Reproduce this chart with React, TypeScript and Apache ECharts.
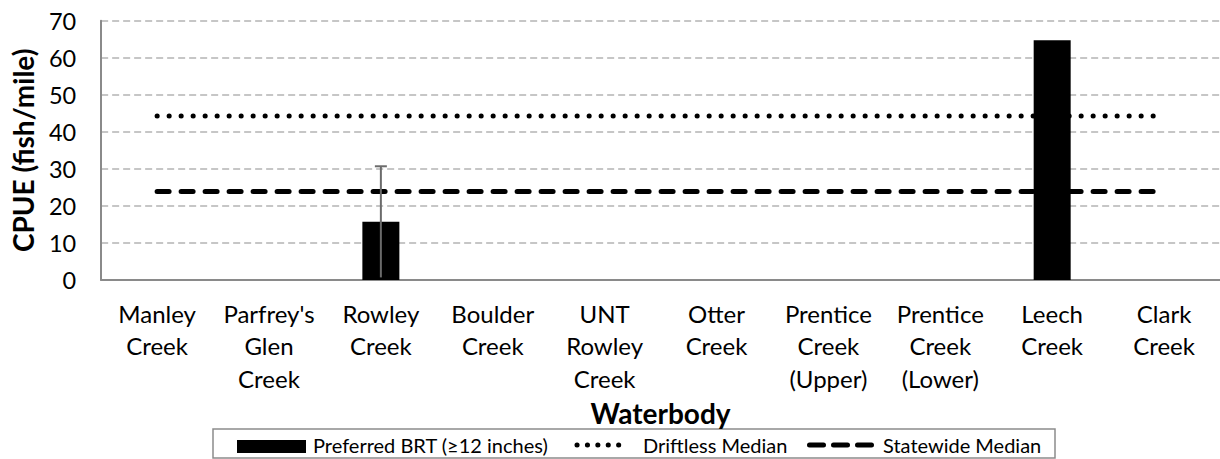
import React, { useEffect, useRef } from 'react';
import * as echarts from 'echarts';

const categories = [
  'Manley\nCreek',
  "Parfrey's\nGlen\nCreek",
  'Rowley\nCreek',
  'Boulder\nCreek',
  'UNT\nRowley\nCreek',
  'Otter\nCreek',
  'Prentice\nCreek\n(Upper)',
  'Prentice\nCreek\n(Lower)',
  'Leech\nCreek',
  'Clark\nCreek',
];
const preferredBRT = [0, 0, 15.7, 0, 0, 0, 0, 0, 64.7, 0];
const errorLow = [null, null, 0.7, null, null, null, null, null, null, null];
const errorHigh = [null, null, 30.7, null, null, null, null, null, null, null];
const driftlessMedian = [44.3, 44.3, 44.3, 44.3, 44.3, 44.3, 44.3, 44.3, 44.3, 44.3];
const statewideMedian = [23.9, 23.9, 23.9, 23.9, 23.9, 23.9, 23.9, 23.9, 23.9, 23.9];
const yMin = 0;
const yMax = 70;
const yInterval = 10;
const seriesNames = ['Preferred BRT (≥12 inches)', 'Driftless Median', 'Statewide Median'];
const yTitle = 'CPUE (fish/mile)';
const xTitle = 'Waterbody';

const FONT = 'Lato, "Noto Sans", sans-serif';

export default function App() {
  const ref = useRef<HTMLDivElement>(null);
  useEffect(() => {
    if (!ref.current) return;
    const chart = echarts.init(ref.current, undefined, { renderer: 'svg' });
    const errData = categories
      .map((_, i) => [i, errorLow[i], errorHigh[i]])
      .filter((d) => d[1] != null && d[2] != null);
    const legendY = 445;
    chart.setOption({
      animation: false,
      textStyle: { fontFamily: FONT },
      grid: { left: 100, right: 0, top: 20.7, bottom: 179 },
      xAxis: {
        type: 'category',
        data: categories,
        name: xTitle,
        nameLocation: 'middle',
        nameGap: 115,
        nameTextStyle: { fontFamily: FONT, fontSize: 28, fontWeight: 'bold', color: '#000', lineHeight: 28 },
        axisLine: { show: true, lineStyle: { color: '#8a8a8a', width: 2 } },
        axisTick: { show: false },
        axisLabel: {
          interval: 0,
          margin: 17,
          fontFamily: FONT,
          fontSize: 24,
          lineHeight: 32.5,
          color: '#000',
          align: 'center',
        },
      },
      yAxis: {
        type: 'value',
        min: yMin,
        max: yMax,
        interval: yInterval,
        name: yTitle,
        nameLocation: 'middle',
        nameGap: 58,
        nameTextStyle: { fontFamily: FONT, fontSize: 28, fontWeight: 'bold', color: '#000', lineHeight: 30 },
        axisLine: { show: true, lineStyle: { color: '#8a8a8a', width: 2 } },
        axisTick: { show: false },
        axisLabel: { margin: 25, fontFamily: FONT, fontSize: 23.5, color: '#000' },
        splitLine: { show: true, lineStyle: { color: '#c6c6c6', width: 2, type: [7, 4] } },
      },
      series: [
        {
          name: seriesNames[1],
          type: 'line',
          data: driftlessMedian,
          symbol: 'none',
          z: 1,
          lineStyle: { color: '#000', width: 5, type: [0.1, 11.9], cap: 'round' },
        },
        {
          name: seriesNames[2],
          type: 'line',
          data: statewideMedian,
          symbol: 'none',
          z: 1,
          lineStyle: { color: '#000', width: 5, type: [12, 12], cap: 'round' },
        },
        {
          name: seriesNames[0],
          type: 'bar',
          data: preferredBRT,
          barWidth: 37,
          z: 3,
          itemStyle: { color: '#000' },
        },
        {
          type: 'custom',
          z: 4,
          data: errData,
          renderItem: (params: any, api: any) => {
            const x = api.value(0);
            const lo = api.coord([x, api.value(1)]);
            const hi = api.coord([x, api.value(2)]);
            const st = { stroke: '#6b6b6b', lineWidth: 2 };
            return {
              type: 'group',
              children: [
                { type: 'line', shape: { x1: lo[0], y1: lo[1], x2: hi[0], y2: hi[1] }, style: st },
                { type: 'line', shape: { x1: hi[0] - 6, y1: hi[1], x2: hi[0] + 6, y2: hi[1] }, style: st },
              ],
            };
          },
        },
      ],
      graphic: [
        {
          type: 'rect',
          shape: { x: 213, y: 429, width: 842, height: 29 },
          style: { fill: '#fff', stroke: '#8c8c8c', lineWidth: 1.5 },
        },
        {
          type: 'rect',
          shape: { x: 237, y: 440, width: 69, height: 13 },
          style: { fill: '#000' },
        },
        {
          type: 'text',
          x: 313,
          y: legendY,
          style: { text: seriesNames[0], fontFamily: FONT, fontSize: 20, fill: '#000', verticalAlign: 'middle' },
        },
        {
          type: 'line',
          shape: { x1: 577, y1: legendY, x2: 629, y2: legendY },
          style: { stroke: '#000', lineWidth: 5, lineDash: [0.1, 10.3], lineCap: 'round' },
        },
        {
          type: 'text',
          x: 643,
          y: legendY,
          style: { text: seriesNames[1], fontFamily: FONT, fontSize: 20, fill: '#000', verticalAlign: 'middle' },
        },
        {
          type: 'line',
          shape: { x1: 809.5, y1: legendY, x2: 871.5, y2: legendY },
          style: { stroke: '#000', lineWidth: 5, lineDash: [14, 10], lineCap: 'round' },
        },
        {
          type: 'text',
          x: 883,
          y: legendY,
          style: { text: seriesNames[2], fontFamily: FONT, fontSize: 20, fill: '#000', verticalAlign: 'middle' },
        },
      ],
    });
    return () => chart.dispose();
  }, []);
  return (
    <div
      ref={ref}
      style={{ position: 'fixed', left: 0, top: 0, width: 1220, height: 459, background: '#fff' }}
    />
  );
}
